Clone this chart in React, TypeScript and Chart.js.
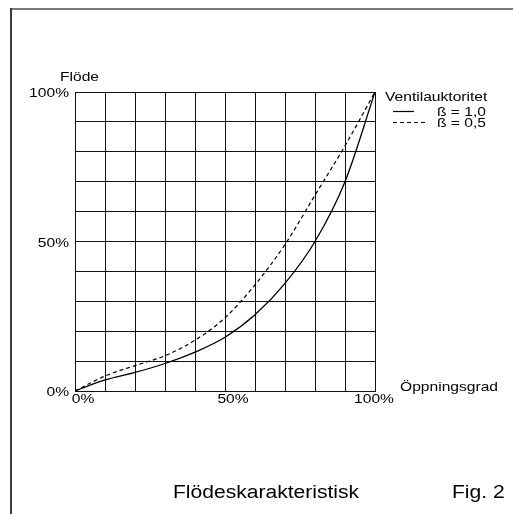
import { useEffect, useRef } from 'react';
import { Chart, registerables } from 'chart.js';

Chart.register(...registerables);

const opening = [0, 10, 20, 30, 40, 50, 60, 70, 80, 90, 100];
const flowBeta10 = [0, 3.7, 6.2, 9.2, 13, 18, 25.5, 36, 50, 70, 100];
const flowBeta05 = [0, 5, 8.5, 11.8, 17, 24.5, 35.5, 49, 65.5, 82, 100];
const yTickValues = [0, 50, 100];
const xTickValues = [0, 50, 100];
const seriesLabels = ['ß = 1,0', 'ß = 0,5'];
const yAxisTitle = 'Flöde';
const xAxisTitle = 'Öppningsgrad';
const legendTitle = 'Ventilauktoritet';
const caption = 'Flödeskarakteristisk';
const figLabel = 'Fig. 2';

const FONT = '"Liberation Sans", Arial, Helvetica, sans-serif';

function drawText(
  ctx: CanvasRenderingContext2D,
  text: string,
  x: number,
  y: number,
  size: number,
  align: CanvasTextAlign,
  baseline: CanvasTextBaseline,
  sx = 1.2
) {
  ctx.save();
  ctx.translate(x, y);
  ctx.scale(sx, 1);
  ctx.font = `${size}px ${FONT}`;
  ctx.textAlign = align;
  ctx.textBaseline = baseline;
  ctx.fillStyle = '#000';
  ctx.fillText(text, 0, 0);
  ctx.restore();
}

const decorPlugin = {
  id: 'decor',
  afterDraw(chart: any) {
    const ctx: CanvasRenderingContext2D = chart.ctx;
    const xs = chart.scales.x;
    const ys = chart.scales.y;
    ctx.save();
    // frame
    ctx.fillStyle = '#7a7a7a';
    ctx.fillRect(10, 8, 503, 2);
    ctx.fillStyle = '#3c3c3c';
    ctx.fillRect(10, 8, 2, 506);

    // y tick labels
    yTickValues.forEach((v) => {
      drawText(ctx, `${v}%`, 69, ys.getPixelForValue(v) + 1.5, 13, 'right', 'middle');
    });
    // x tick labels
    const xOff = [8, 8, -1];
    xTickValues.forEach((v, i) => {
      drawText(ctx, `${v}%`, xs.getPixelForValue(v) + xOff[i], 393, 13, 'center', 'top');
    });
    // axis titles
    drawText(ctx, yAxisTitle, 60, 81, 13, 'left', 'alphabetic');
    drawText(ctx, xAxisTitle, 400, 391, 13, 'left', 'alphabetic');

    // legend
    drawText(ctx, legendTitle, 385, 101, 13, 'left', 'alphabetic');
    drawText(ctx, seriesLabels[0], 437, 116, 13, 'left', 'alphabetic');
    drawText(ctx, seriesLabels[1], 437, 127, 13, 'left', 'alphabetic');
    ctx.strokeStyle = '#000';
    ctx.lineWidth = 1.2;
    ctx.setLineDash([]);
    ctx.beginPath();
    ctx.moveTo(393, 111.5);
    ctx.lineTo(414, 111.5);
    ctx.stroke();
    ctx.setLineDash([4, 3]);
    ctx.beginPath();
    ctx.moveTo(393, 122.5);
    ctx.lineTo(425, 122.5);
    ctx.stroke();
    ctx.setLineDash([]);

    // caption
    drawText(ctx, caption, 173, 498, 18, 'left', 'alphabetic', 1.17);
    drawText(ctx, figLabel, 452, 498, 18, 'left', 'alphabetic', 1.17);
    ctx.restore();
  },
};

export default function App() {
  const ref = useRef<HTMLCanvasElement>(null);
  useEffect(() => {
    if (!ref.current) return;
    const chart = new Chart(ref.current, {
      type: 'line',
      data: {
        datasets: [
          {
            label: seriesLabels[0],
            data: opening.map((x, i) => ({ x, y: flowBeta10[i] })),
            borderColor: '#000',
            borderWidth: 1.3,
            pointRadius: 0,
            cubicInterpolationMode: 'monotone',
            fill: false,
          },
          {
            label: seriesLabels[1],
            data: opening.map((x, i) => ({ x, y: flowBeta05[i] })),
            borderColor: '#000',
            borderWidth: 1.2,
            borderDash: [4, 3],
            pointRadius: 0,
            cubicInterpolationMode: 'monotone',
            fill: false,
          },
        ],
      },
      options: {
        animation: false,
        responsive: false,
        layout: { padding: { left: 75, top: 92, right: 138, bottom: 123 } },
        plugins: { legend: { display: false }, tooltip: { enabled: false } },
        scales: {
          x: {
            type: 'linear',
            min: 0,
            max: 100,
            ticks: { stepSize: 10, display: false },
            grid: { color: '#111', lineWidth: 1, drawTicks: false },
            border: { display: true, color: '#111', width: 1 },
          },
          y: {
            type: 'linear',
            min: 0,
            max: 100,
            ticks: { stepSize: 10, display: false },
            grid: { color: '#111', lineWidth: 1, drawTicks: false },
            border: { display: true, color: '#111', width: 1 },
          },
        },
      },
      plugins: [decorPlugin],
    });
    return () => chart.destroy();
  }, []);
  return (
    <div style={{ position: 'fixed', left: 0, top: 0, width: 513, height: 514, background: '#fff' }}>
      <canvas ref={ref} width={513} height={514} style={{ display: 'block' }} />
    </div>
  );
}
